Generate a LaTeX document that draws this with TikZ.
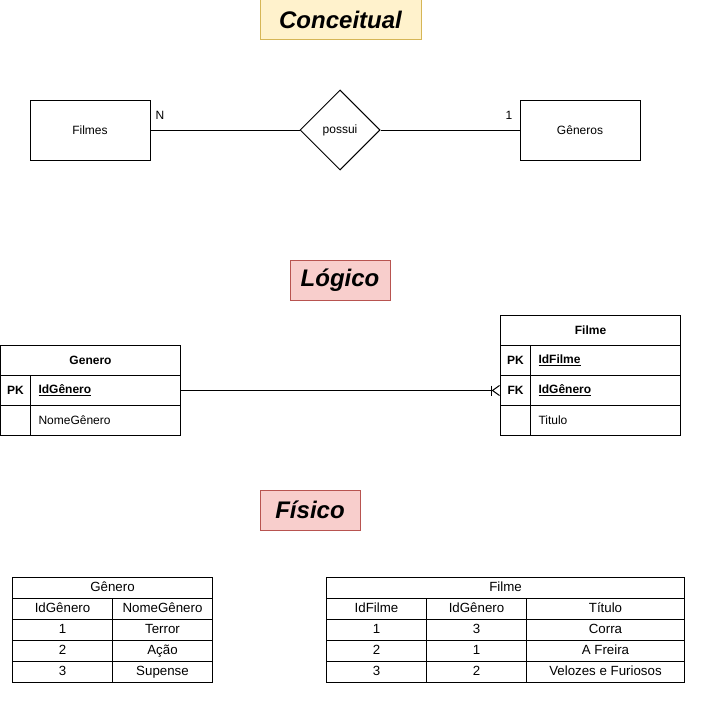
\documentclass[tikz,border=0pt]{standalone}
\usepackage{fontspec}
\setmainfont{Liberation Sans}
\usepackage{xcolor}
\usetikzlibrary{shapes, arrows.meta, positioning, calc}
\definecolor{amarelo}{HTML}{FFF2CC}
\definecolor{amareloborda}{HTML}{D6B656}
\definecolor{vermelho}{HTML}{F8CECC}
\definecolor{vermelhoborda}{HTML}{B85450}

\begin{document}
\begin{tikzpicture}[x=1pt, y=-1pt, line width=1pt,
	every node/.style={font=\fontsize{12}{14}\selectfont, inner sep=0pt},
	titulo/.style={draw, font=\fontsize{24}{28}\selectfont\bfseries\itshape, minimum width=100pt, minimum height=40pt},
	ent/.style={draw, minimum width=120pt, minimum height=60pt},
	chave/.style={draw, anchor=north west, minimum width=30pt, minimum height=30pt, font=\fontsize{12}{14}\selectfont\bfseries},
	attr/.style={draw, anchor=north west, text width=134pt, inner xsep=8pt, align=left, minimum height=30pt},
	cab/.style={draw, anchor=north west, minimum width=180pt, minimum height=30pt, font=\fontsize{12}{14}\selectfont\bfseries},
	dado/.style={draw, anchor=north west, minimum height=21pt, text height=9.5pt, text depth=3pt, font=\fontsize{13.3}{15}\selectfont}]

	\useasboundingbox (0,0) rectangle (715,701);

	\node[titulo, draw=amareloborda, fill=amarelo, minimum width=161pt] (1) at (340.5,20) {Conceitual};
	\node[ent] (2) at (90,130) {Filmes};
	\node[draw, diamond, minimum width=80pt, minimum height=80pt] (3) at (340,130) {possui};
	\node[ent] (4) at (580,130) {Gêneros};
	\node (5) at (160,115) {N};
	\node (6) at (509,115) {1};
	\draw (2) -- (3);
	\draw (3) -- (4);

	\node[titulo, draw=vermelhoborda, fill=vermelho] (7) at (340,280) {Lógico};

	\node[cab] (g0) at (0,345) {Genero};
	\node[chave] (g1k) at (0,375) {PK};
	\node[attr] (g1) at (30,375) {\textbf{\underline{IdGênero}}};
	\node[chave] (g2k) at (0,405) {};
	\node[attr] (g2) at (30,405) {NomeGênero};

	\node[cab] (f0) at (500,315) {Filme};
	\node[chave] (f1k) at (500,345) {PK};
	\node[attr] (f1) at (530,345) {\textbf{\underline{IdFilme}}};
	\node[chave] (f2k) at (500,375) {FK};
	\node[attr] (f2) at (530,375) {\textbf{\underline{IdGênero}}};
	\node[chave] (f3k) at (500,405) {};
	\node[attr] (f3) at (530,405) {Titulo};

	\draw[-{Bar[width=10pt, sep=0pt]Straight Barb[reversed, length=7pt, width=10pt]}] (g1.east) -- (f2k.west);

	\node[titulo, draw=vermelhoborda, fill=vermelho] (8) at (310,510) {Físico};

	\node[dado, minimum width=200pt] (t0) at (12,577) {Gênero};
	\node[dado, minimum width=100pt] (ta) at (12,598) {IdGênero};
	\node[dado, minimum width=100pt] (tb) at (112,598) {NomeGênero};
	\foreach \i/\n/\g in {1/1/Terror, 2/2/Ação, 3/3/Supense}{
		\node[dado, minimum width=100pt] (ta\i) at (12,598+21*\i) {\n};
		\node[dado, minimum width=100pt] (tb\i) at (112,598+21*\i) {\g};
	}

	\node[dado, minimum width=358pt] (u0) at (326,577) {Filme};
	\node[dado, minimum width=100pt] (ua) at (326,598) {IdFilme};
	\node[dado, minimum width=100pt] (ub) at (426,598) {IdGênero};
	\node[dado, minimum width=158pt] (uc) at (526,598) {Título};
	\foreach \i/\f/\g/\t in {1/1/3/Corra, 2/2/1/A Freira, 3/3/2/Velozes e Furiosos}{
		\node[dado, minimum width=100pt] (ua\i) at (326,598+21*\i) {\f};
		\node[dado, minimum width=100pt] (ub\i) at (426,598+21*\i) {\g};
		\node[dado, minimum width=158pt] (uc\i) at (526,598+21*\i) {\t};
	}

\end{tikzpicture}
\end{document}
